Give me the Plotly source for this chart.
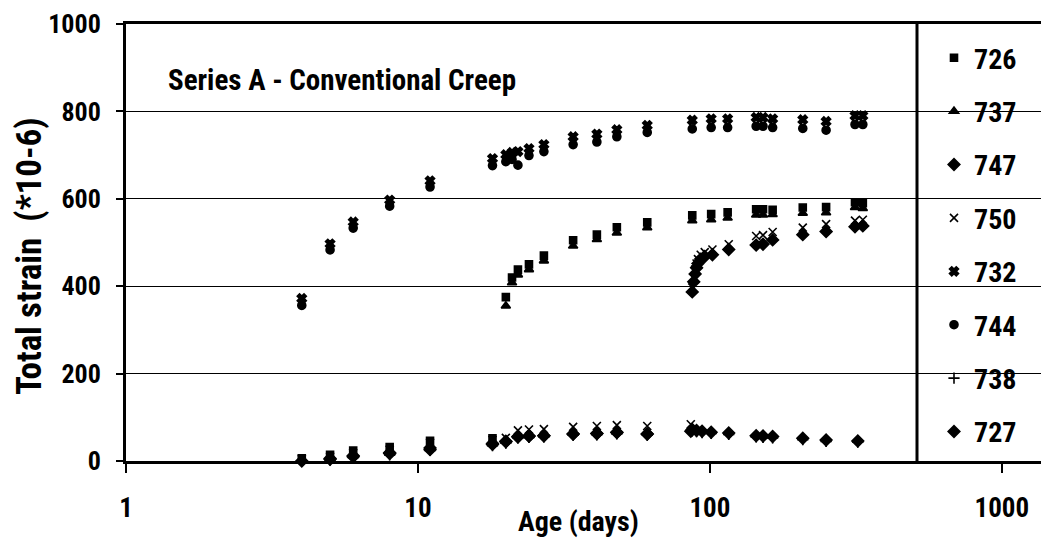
import plotly.graph_objects as go

# ---------------- data ----------------
# 732 / 744 : loaded at 4 days
ages_4d = [4, 5, 6, 8, 11, 18, 20, 21, 22, 24, 27, 34, 41, 48, 61, 87, 101, 115, 144, 152, 164, 208, 250, 314, 334]
strain_732 = [372, 497, 547, 597, 641, 692, 701, 706, 708, 715, 724, 742, 748, 758, 768, 780, 783, 783, 786, 786, 783, 781, 777, 790, 790]
strain_744 = [356, 483, 533, 583, 627, 676, 685, 690, 677, 699, 708, 724, 730, 742, 752, 760, 763, 763, 766, 766, 763, 761, 757, 770, 770]

# 726 / 737 : unloaded until 18 days, loaded at 20 days
ages_20d = [4, 5, 6, 8, 11, 18, 20, 21, 22, 24, 27, 34, 41, 48, 61, 87, 101, 115, 144, 152, 164, 208, 250, 314, 334]
strain_726 = [6, 14, 24, 32, 46, 52, 375, 420, 438, 450, 470, 505, 518, 535, 546, 562, 565, 569, 576, 576, 575, 580, 581, 592, 590]
strain_737 = [-2, 4, 12, 18, 34, 40, 355, 408, 426, 438, 458, 492, 507, 522, 534, 550, 552, 556, 563, 563, 564, 567, 568, 580, 578]

# 747 / 750 : unloaded until 86 days, loaded at 87 days
ages_87d = [4, 5, 6, 8, 11, 18, 20, 22, 24, 27, 34, 41, 48, 61, 86,
            87, 88, 89, 90, 91, 93, 96, 102, 116, 144, 152, 164, 208, 250, 314, 334]
strain_747 = [0, 6, 12, 19, 30, 40, 45, 55, 57, 58, 62, 63, 66, 62, 68,
              387, 410, 428, 442, 452, 462, 468, 472, 484, 494, 496, 506, 518, 525, 536, 538]
strain_750 = [4, 10, 18, 26, 42, 48, 53, 70, 72, 73, 78, 80, 82, 80, 84,
              397, 420, 438, 452, 462, 472, 478, 484, 496, 515, 517, 524, 534, 542, 550, 552]

# 727 / 738 : unloaded throughout
ages_free = [4, 5, 6, 8, 11, 18, 20, 22, 24, 27, 34, 41, 48, 61, 87, 90, 94, 101, 116, 144, 152, 164, 208, 250, 321]
strain_727 = [-2, 4, 10, 17, 26, 38, 44, 56, 57, 58, 62, 63, 65, 62, 72, 70, 68, 66, 64, 58, 57, 56, 52, 48, 46]
strain_738 = [-4, 2, 8, 14, 24, 35, 41, 53, 54, 55, 59, 60, 62, 59, 69, 67, 65, 63, 61, 55, 54, 53, 49, 45, 43]

legend_order = ["726", "737", "747", "750", "732", "744", "738", "727"]
x_tick_vals = [1, 10, 100, 1000]
x_tick_text = ["1", "10", "100", "1000"]
y_tick_vals = [0, 200, 400, 600, 800, 1000]

title_text = "Series A - Conventional Creep"
x_title = "Age (days)"
y_title = "Total strain  (*10-6)"

# ---------------- styling ----------------
FONT = "Roboto Condensed, Liberation Sans Narrow, Arial Narrow, Liberation Sans, Arial, sans-serif"
series = {
    "726": (ages_20d, strain_726, "square", 7),
    "737": (ages_20d, strain_737, "triangle-up", 8),
    "747": (ages_87d, strain_747, "diamond", 9),
    "750": (ages_87d, strain_750, "x-thin-open", 8),
    "732": (ages_4d, strain_732, "x", 8),
    "744": (ages_4d, strain_744, "circle", 8),
    "738": (ages_free, strain_738, "cross-thin-open", 8),
    "727": (ages_free, strain_727, "diamond", 9),
}

fig = go.Figure()
for name in legend_order:
    xs, ys, sym, size = series[name]
    fig.add_trace(go.Scatter(
        x=xs, y=ys, mode="markers", name=name, legendgroup=name,
        marker=dict(symbol=sym, size=size, color="black",
                    line=dict(color="black", width=1.6)),
        cliponaxis=False,
    ))

W, H = 1041, 543
L, R, T, B = 126, 0, 24, 82
pw = W - L - R
ph = H - T - B

def px_x(p):
    return (p - L) / pw

def px_y(p):
    return (H - B - p) / ph

legend_left = px_x(917)

fig.update_layout(
    width=W, height=H,
    margin=dict(l=L, r=R, t=T, b=B, pad=0),
    paper_bgcolor="white", plot_bgcolor="white",
    font=dict(family=FONT, color="black", size=26, weight="bold"),
    showlegend=True,
    legend=dict(
        x=px_x(934), y=px_y(33), xanchor="left", yanchor="top",
        bgcolor="rgba(0,0,0,0)", borderwidth=0,
        font=dict(family=FONT, size=28, color="black", weight="bold"),
        tracegroupgap=14, itemwidth=30, maxheight=600,
    ),
    xaxis=dict(
        type="log", range=[0, 3.134],
        tickvals=x_tick_vals, ticktext=x_tick_text,
        showgrid=False, zeroline=False,
        showline=True, linecolor="black", linewidth=3, mirror=True,
        ticks="outside", ticklen=9, tickwidth=1.5, tickcolor="black",
        ticklabelstandoff=12,
        tickfont=dict(family=FONT, size=27, color="black", weight="bold"),
    ),
    yaxis=dict(
        range=[0, 1000], tickvals=y_tick_vals,
        showgrid=True, gridcolor="black", gridwidth=1,
        zeroline=False,
        showline=True, linecolor="black", linewidth=3,
        ticks="outside", ticklen=7, tickwidth=1.5, tickcolor="black",
        ticklabelstandoff=10,
        tickfont=dict(family=FONT, size=26, color="black", weight="bold"),
    ),
    shapes=[
        dict(type="rect", xref="paper", yref="paper",
             x0=legend_left, x1=1.01, y0=0.004, y1=0.996,
             fillcolor="white", line=dict(width=0), layer="between"),
        dict(type="line", xref="paper", yref="paper",
             x0=legend_left, x1=legend_left, y0=0, y1=1,
             line=dict(color="black", width=3), layer="above"),
    ],
    annotations=[
        dict(text=title_text, xref="paper", yref="paper",
             x=px_x(166), y=px_y(80), xanchor="left", yanchor="middle",
             showarrow=False,
             font=dict(family=FONT, size=29, color="black", weight="bold")),
        dict(text=x_title, xref="paper", yref="paper",
             x=px_x(578), y=px_y(521), xanchor="center", yanchor="middle",
             showarrow=False,
             font=dict(family=FONT, size=28, color="black", weight="bold")),
        dict(text=y_title, xref="paper", yref="paper",
             x=px_x(29), y=px_y(256), xanchor="center", yanchor="middle",
             textangle=-90, showarrow=False,
             font=dict(family=FONT, size=35, color="black", weight="bold")),
    ],
)

fig.write_html("out.html", config={"displayModeBar": False},
               post_script="document.body.style.margin='0';")
